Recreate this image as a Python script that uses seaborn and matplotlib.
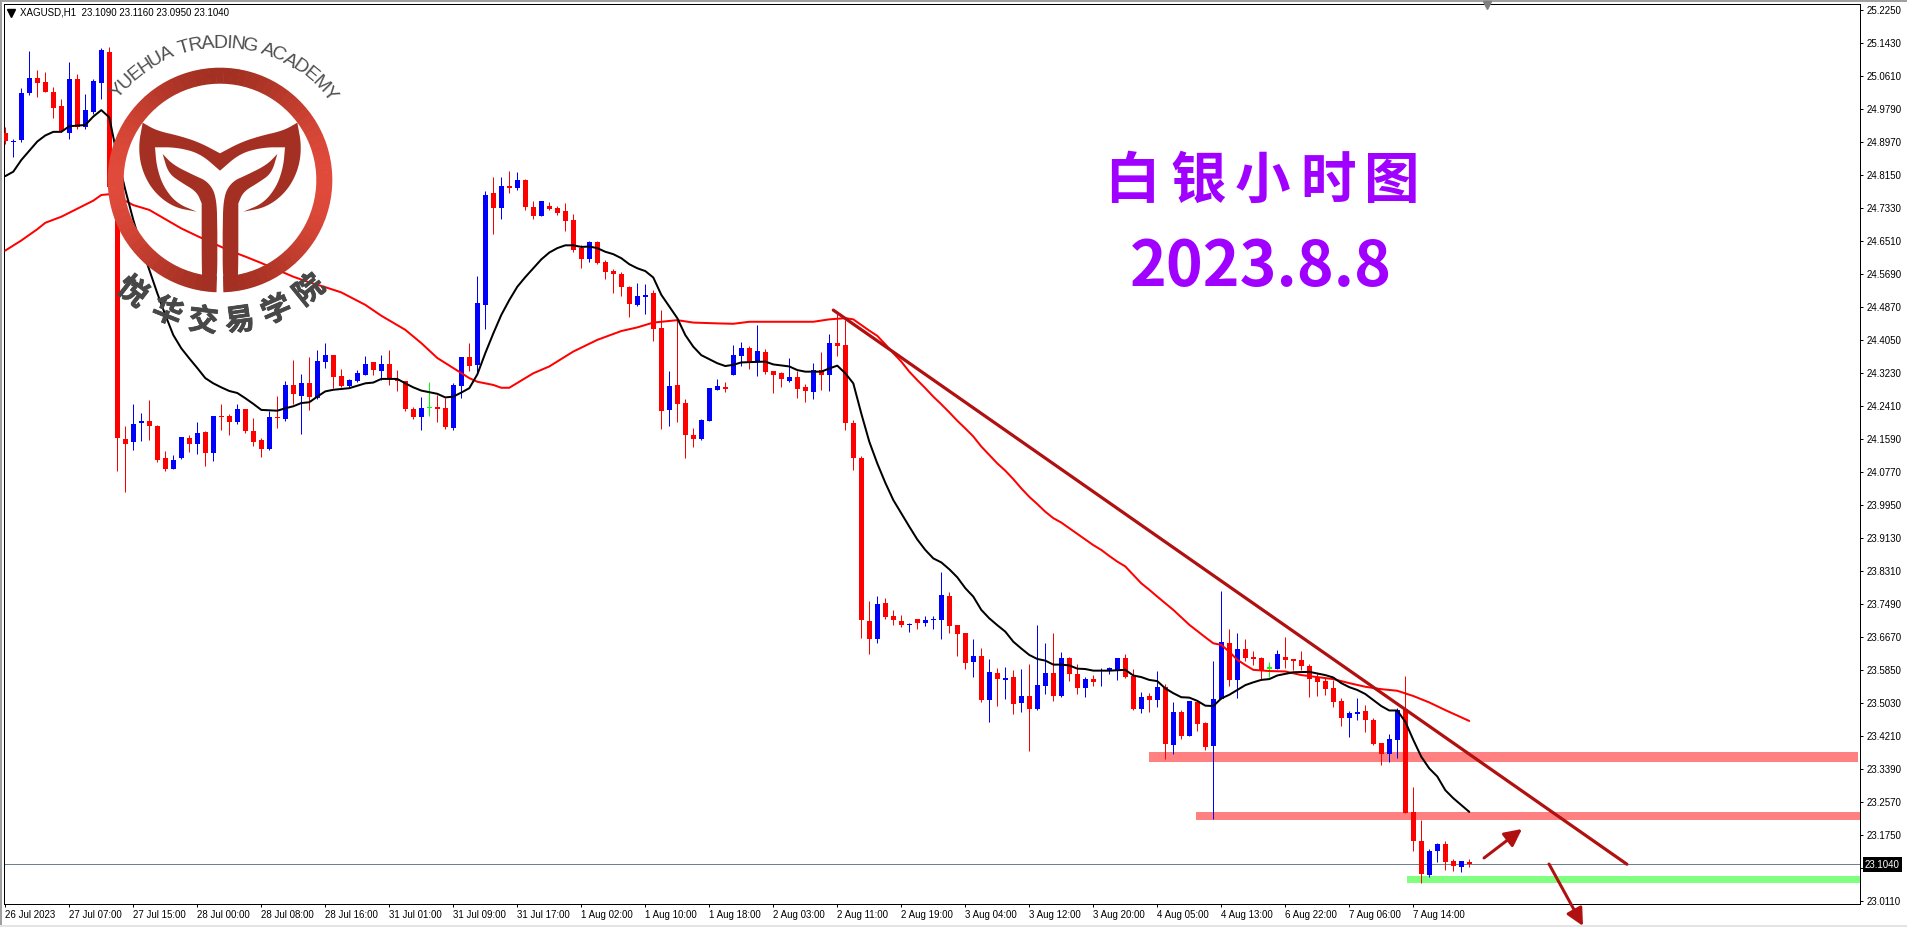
import numpy as np
import pandas as pd
import seaborn as sns
import matplotlib
matplotlib.use('Agg')
import matplotlib.pyplot as plt
import matplotlib.patheffects as pe
from matplotlib.patches import Wedge, Polygon, Rectangle, FancyArrowPatch

# XAGUSD H1 bars
opens = [24.919, 24.898, 24.903, 25.020, 25.056, 25.047, 25.021, 24.986, 24.921, 25.054,
         24.934, 24.972, 25.044, 25.121, 24.787, 24.160, 24.151, 24.200, 24.205, 24.192,
         24.113, 24.086, 24.113, 24.163, 24.148, 24.178, 24.125, 24.217, 24.217, 24.202,
         24.235, 24.180, 24.158, 24.135, 24.212, 24.210, 24.294, 24.267, 24.299, 24.262,
         24.351, 24.369, 24.317, 24.292, 24.304, 24.319, 24.351, 24.329, 24.346, 24.309,
         24.304, 24.235, 24.215, 24.236, 24.237, 24.237, 24.187, 24.292, 24.364, 24.344,
         24.493, 24.771, 24.734, 24.788, 24.783, 24.803, 24.736, 24.714, 24.739, 24.734,
         24.726, 24.704, 24.634, 24.607, 24.649, 24.600, 24.577, 24.570, 24.538, 24.493,
         24.513, 24.523, 24.436, 24.232, 24.294, 24.249, 24.170, 24.160, 24.205, 24.282,
         24.289, 24.319, 24.366, 24.386, 24.351, 24.376, 24.329, 24.324, 24.304, 24.314,
         24.289, 24.277, 24.331, 24.319, 24.398, 24.393, 24.200, 24.112, 23.707, 23.663,
         23.752, 23.720, 23.707, 23.698, 23.712, 23.702, 23.710, 23.710, 23.769, 23.698,
         23.678, 23.605, 23.620, 23.511, 23.578, 23.561, 23.568, 23.504, 23.521, 23.489,
         23.546, 23.578, 23.521, 23.615, 23.576, 23.541, 23.563, 23.583, 23.583, 23.586,
         23.615, 23.571, 23.489, 23.521, 23.511, 23.543, 23.399, 23.481, 23.422, 23.506,
         23.454, 23.397, 23.514, 23.653, 23.561, 23.638, 23.616, 23.616, 23.589, 23.588,
         23.618, 23.611, 23.611, 23.596, 23.568, 23.558, 23.541, 23.509, 23.467, 23.476,
         23.484, 23.462, 23.404, 23.377, 23.412, 23.489, 23.233, 23.161, 23.076, 23.136,
         23.153, 23.111, 23.096, 23.109]
highs = [24.936, 24.905, 25.031, 25.124, 25.077, 25.072, 25.035, 25.004, 25.097, 25.067,
         25.017, 25.054, 25.131, 25.133, 24.790, 24.192, 24.247, 24.224, 24.257, 24.194,
         24.130, 24.120, 24.165, 24.170, 24.202, 24.180, 24.217, 24.247, 24.222, 24.247,
         24.235, 24.212, 24.163, 24.230, 24.267, 24.304, 24.356, 24.322, 24.364, 24.381,
         24.399, 24.369, 24.334, 24.309, 24.332, 24.366, 24.351, 24.369, 24.381, 24.332,
         24.304, 24.240, 24.264, 24.302, 24.269, 24.262, 24.298, 24.364, 24.399, 24.565,
         24.776, 24.811, 24.811, 24.826, 24.823, 24.806, 24.751, 24.752, 24.749, 24.739,
         24.746, 24.719, 24.642, 24.652, 24.652, 24.605, 24.582, 24.575, 24.540, 24.547,
         24.545, 24.530, 24.480, 24.329, 24.458, 24.259, 24.187, 24.210, 24.287, 24.309,
         24.302, 24.393, 24.401, 24.391, 24.443, 24.384, 24.329, 24.326, 24.361, 24.329,
         24.297, 24.349, 24.376, 24.421, 24.470, 24.456, 24.207, 24.117, 23.757, 23.769,
         23.764, 23.735, 23.722, 23.702, 23.712, 23.720, 23.720, 23.829, 23.779, 23.698,
         23.678, 23.663, 23.640, 23.613, 23.591, 23.593, 23.586, 23.588, 23.601, 23.698,
         23.653, 23.678, 23.630, 23.618, 23.601, 23.568, 23.573, 23.591, 23.593, 23.615,
         23.625, 23.588, 23.531, 23.529, 23.583, 23.551, 23.506, 23.486, 23.509, 23.509,
         23.456, 23.608, 23.782, 23.688, 23.678, 23.663, 23.633, 23.618, 23.606, 23.635,
         23.668, 23.613, 23.633, 23.601, 23.577, 23.569, 23.561, 23.516, 23.484, 23.516,
         23.499, 23.467, 23.404, 23.427, 23.491, 23.571, 23.295, 23.213, 23.141, 23.156,
         23.161, 23.116, 23.111, 23.116]
lows = [24.893, 24.861, 24.898, 25.015, 25.010, 25.022, 24.958, 24.922, 24.905, 24.931,
        24.929, 24.967, 25.004, 24.787, 24.081, 24.029, 24.133, 24.154, 24.158, 24.103,
        24.081, 24.084, 24.110, 24.128, 24.123, 24.093, 24.105, 24.182, 24.170, 24.197,
        24.175, 24.143, 24.115, 24.133, 24.187, 24.205, 24.247, 24.173, 24.232, 24.260,
        24.337, 24.286, 24.290, 24.290, 24.302, 24.319, 24.319, 24.307, 24.294, 24.280,
        24.230, 24.210, 24.182, 24.217, 24.202, 24.185, 24.182, 24.262, 24.329, 24.321,
        24.433, 24.669, 24.706, 24.771, 24.778, 24.729, 24.706, 24.714, 24.729, 24.716,
        24.677, 24.624, 24.585, 24.600, 24.595, 24.557, 24.523, 24.515, 24.463, 24.490,
        24.470, 24.403, 24.185, 24.192, 24.202, 24.113, 24.140, 24.157, 24.205, 24.282,
        24.277, 24.319, 24.341, 24.334, 24.316, 24.321, 24.274, 24.289, 24.302, 24.262,
        24.252, 24.259, 24.282, 24.279, 24.366, 24.182, 24.083, 23.665, 23.625, 23.653,
        23.712, 23.698, 23.692, 23.680, 23.688, 23.695, 23.688, 23.663, 23.678, 23.620,
        23.588, 23.568, 23.506, 23.456, 23.496, 23.514, 23.476, 23.481, 23.384, 23.486,
        23.526, 23.509, 23.519, 23.558, 23.526, 23.519, 23.546, 23.546, 23.576, 23.561,
        23.566, 23.486, 23.479, 23.481, 23.494, 23.365, 23.377, 23.414, 23.422, 23.434,
        23.387, 23.215, 23.514, 23.546, 23.516, 23.608, 23.598, 23.561, 23.568, 23.588,
        23.591, 23.586, 23.586, 23.519, 23.521, 23.524, 23.494, 23.447, 23.419, 23.462,
        23.432, 23.399, 23.350, 23.357, 23.367, 23.230, 23.136, 23.056, 23.070, 23.109,
        23.089, 23.086, 23.084, 23.095]
closes = [24.901, 24.900, 25.019, 25.056, 25.045, 25.023, 24.983, 24.924, 25.054, 24.934,
          24.977, 25.049, 25.126, 24.787, 24.161, 24.148, 24.197, 24.205, 24.192, 24.108,
          24.086, 24.108, 24.165, 24.148, 24.175, 24.125, 24.217, 24.215, 24.202, 24.235,
          24.180, 24.153, 24.135, 24.215, 24.211, 24.294, 24.272, 24.299, 24.264, 24.354,
          24.369, 24.314, 24.292, 24.307, 24.324, 24.346, 24.332, 24.346, 24.309, 24.304,
          24.235, 24.215, 24.237, 24.236, 24.235, 24.190, 24.294, 24.364, 24.342, 24.498,
          24.766, 24.734, 24.788, 24.783, 24.803, 24.736, 24.714, 24.751, 24.731, 24.721,
          24.701, 24.629, 24.607, 24.649, 24.597, 24.575, 24.570, 24.538, 24.495, 24.515,
          24.518, 24.433, 24.229, 24.292, 24.247, 24.170, 24.160, 24.207, 24.287, 24.292,
          24.284, 24.369, 24.386, 24.351, 24.379, 24.326, 24.319, 24.309, 24.314, 24.284,
          24.279, 24.331, 24.319, 24.398, 24.391, 24.200, 24.113, 23.710, 23.663, 23.750,
          23.717, 23.710, 23.698, 23.701, 23.702, 23.710, 23.712, 23.772, 23.695, 23.675,
          23.603, 23.620, 23.511, 23.581, 23.563, 23.566, 23.501, 23.521, 23.489, 23.548,
          23.578, 23.521, 23.615, 23.576, 23.541, 23.563, 23.556, 23.586, 23.591, 23.615,
          23.568, 23.489, 23.519, 23.511, 23.543, 23.402, 23.481, 23.422, 23.509, 23.451,
          23.394, 23.514, 23.655, 23.561, 23.638, 23.616, 23.614, 23.586, 23.589, 23.625,
          23.611, 23.609, 23.596, 23.563, 23.556, 23.539, 23.506, 23.467, 23.479, 23.481,
          23.462, 23.402, 23.377, 23.414, 23.486, 23.230, 23.161, 23.079, 23.136, 23.153,
          23.109, 23.099, 23.111, 23.104]

# moving averages, read at these bar numbers
fast_x = [0, 1, 2, 3, 4, 5, 6, 7, 8, 10, 11, 12, 13, 14, 15, 16, 17, 18, 19, 20,
          21, 22, 23, 24, 25, 26, 27, 28, 29, 30, 31, 32, 33, 34, 35, 36, 37, 38, 39, 40,
          41, 43, 44, 45, 46, 47, 49, 50, 51, 52, 53, 54, 55, 56, 57, 58, 59, 60, 61, 62,
          63, 64, 65, 66, 67, 68, 69, 70, 71, 72, 73, 74, 75, 76, 77, 78, 79, 80, 81, 82,
          83, 84, 85, 86, 87, 88, 89, 90, 91, 92, 95, 96, 98, 99, 100, 102, 103, 104, 105, 106,
          107, 108, 109, 110, 111, 112, 113, 114, 115, 116, 117, 118, 119, 120, 121, 122, 123, 124, 125, 126,
          127, 128, 129, 130, 131, 132, 133, 134, 135, 136, 138, 140, 141, 142, 143, 144, 145, 146, 147, 148,
          149, 150, 151, 152, 153, 154, 155, 156, 157, 158, 159, 160, 161, 163, 164, 165, 166, 167, 168, 169,
          170, 171, 172, 173, 174, 175, 176, 177, 178, 179, 180, 181, 182, 183]
fast_ma = [24.813, 24.824, 24.853, 24.876, 24.899, 24.914, 24.923, 24.923, 24.937, 24.940, 24.961, 24.977, 24.959, 24.861, 24.779, 24.704, 24.638, 24.580, 24.522, 24.468,
           24.418, 24.385, 24.360, 24.336, 24.311, 24.298, 24.288, 24.279, 24.274, 24.261, 24.247, 24.232, 24.231, 24.230, 24.236, 24.241, 24.249, 24.251, 24.265, 24.278,
           24.282, 24.286, 24.292, 24.298, 24.300, 24.309, 24.309, 24.298, 24.288, 24.280, 24.276, 24.272, 24.263, 24.265, 24.275, 24.286, 24.320, 24.373, 24.422, 24.468,
           24.505, 24.538, 24.562, 24.584, 24.606, 24.623, 24.634, 24.641, 24.641, 24.637, 24.638, 24.634, 24.625, 24.619, 24.609, 24.594, 24.584, 24.577, 24.561, 24.518,
           24.489, 24.460, 24.418, 24.389, 24.368, 24.358, 24.348, 24.341, 24.344, 24.350, 24.352, 24.345, 24.340, 24.331, 24.327, 24.327, 24.335, 24.342, 24.323, 24.298,
           24.223, 24.153, 24.099, 24.051, 24.008, 23.975, 23.942, 23.910, 23.884, 23.863, 23.853, 23.836, 23.816, 23.789, 23.768, 23.735, 23.714, 23.697, 23.681, 23.656,
           23.639, 23.623, 23.613, 23.609, 23.599, 23.599, 23.597, 23.589, 23.588, 23.584, 23.584, 23.586, 23.572, 23.568, 23.561, 23.558, 23.540, 23.528, 23.518, 23.517,
           23.509, 23.497, 23.496, 23.515, 23.524, 23.536, 23.548, 23.555, 23.561, 23.563, 23.572, 23.576, 23.580, 23.581, 23.577, 23.573, 23.567, 23.553, 23.543, 23.536,
           23.526, 23.511, 23.496, 23.485, 23.485, 23.457, 23.412, 23.370, 23.341, 23.321, 23.287, 23.267, 23.250, 23.233]
slow_x = [0, 2, 4, 5, 7, 9, 11, 12, 13, 14, 16, 18, 20, 22, 24, 26, 28, 30, 32, 34,
          36, 38, 40, 42, 45, 47, 50, 52, 54, 56, 58, 59, 61, 62, 63, 66, 68, 71, 74, 77,
          79, 81, 84, 86, 89, 91, 93, 101, 103, 105, 106, 107, 108, 109, 110, 111, 112, 113, 114, 115,
          116, 117, 118, 119, 120, 121, 122, 123, 124, 125, 126, 127, 128, 129, 130, 131, 132, 133, 134, 135,
          136, 137, 138, 139, 140, 141, 142, 143, 144, 146, 148, 150, 151, 152, 153, 154, 155, 156, 158, 160,
          162, 164, 166, 168, 170, 172, 174, 176, 178, 180, 182, 183]
slow_ma = [24.628, 24.653, 24.681, 24.697, 24.712, 24.732, 24.752, 24.766, 24.768, 24.762, 24.741, 24.729, 24.706, 24.683, 24.664, 24.646, 24.628, 24.613, 24.597, 24.580,
           24.563, 24.549, 24.537, 24.524, 24.493, 24.466, 24.431, 24.398, 24.361, 24.336, 24.311, 24.302, 24.294, 24.287, 24.287, 24.323, 24.340, 24.377, 24.406, 24.428,
           24.437, 24.449, 24.455, 24.449, 24.447, 24.446, 24.451, 24.451, 24.457, 24.460, 24.457, 24.443, 24.429, 24.416, 24.395, 24.373, 24.352, 24.327, 24.306, 24.286,
           24.265, 24.246, 24.226, 24.205, 24.186, 24.166, 24.141, 24.120, 24.099, 24.081, 24.060, 24.037, 24.016, 23.998, 23.979, 23.963, 23.952, 23.938, 23.924, 23.910,
           23.896, 23.884, 23.869, 23.855, 23.843, 23.822, 23.801, 23.785, 23.768, 23.735, 23.698, 23.667, 23.652, 23.648, 23.631, 23.611, 23.598, 23.586, 23.583, 23.582,
           23.573, 23.568, 23.563, 23.553, 23.544, 23.538, 23.534, 23.521, 23.505, 23.486, 23.468, 23.459]

trend_x = [103.5, 202.7]
trend_y = [24.480, 23.103]
last_price = 23.104

# support / resistance zones: start bar, end bar, low price, high price
zone_start = [143, 148.8, 175.2]
zone_end = [231.6, 240, 240]
zone_low = [23.357, 23.2126, 23.0563]
zone_high = [23.382, 23.2325, 23.0737]
zone_color = ['#ff8080', '#ff8080', '#80ff80']

y_ticks = [25.2250, 25.1430, 25.0610, 24.9790, 24.8970, 24.8150, 24.7330, 24.6510, 24.5690, 24.4870,
           24.4050, 24.3230, 24.2410, 24.1590, 24.0770, 23.9950, 23.9130, 23.8310, 23.7490, 23.6670,
           23.5850, 23.5030, 23.4210, 23.3390, 23.2570, 23.1750, 23.0930, 23.0110]
x_labels = ['26 Jul 2023', '27 Jul 07:00', '27 Jul 15:00', '28 Jul 00:00', '28 Jul 08:00', '28 Jul 16:00',
            '31 Jul 01:00', '31 Jul 09:00', '31 Jul 17:00', '1 Aug 02:00', '1 Aug 10:00', '1 Aug 18:00',
            '2 Aug 03:00', '2 Aug 11:00', '2 Aug 19:00', '3 Aug 04:00', '3 Aug 12:00', '3 Aug 20:00',
            '4 Aug 05:00', '4 Aug 13:00', '6 Aug 22:00', '7 Aug 06:00', '7 Aug 14:00']

sns.set_style('ticks')
plt.rcParams['font.family'] = ['Liberation Sans', 'Noto Sans CJK SC', 'DejaVu Sans']
PX = 0.72  # one pixel in points at dpi 100
CJK = ['Noto Sans CJK SC', 'DejaVu Sans']

fig = plt.figure(figsize=(19.08, 9.27), dpi=100, facecolor='white')
ax = fig.add_axes([4 / 1908, 1 - 904 / 927, 1856 / 1908, 900 / 927])

df = pd.DataFrame({'open': opens, 'high': highs, 'low': lows, 'close': closes})
df['bar'] = np.arange(len(df))
df['color'] = np.where(df['close'] > df['open'], '#0000ff', '#ff0000')
df.loc[df['close'] == df['open'], 'color'] = '#00ff00'

for s, e, lo, hi, c in zip(zone_start, zone_end, zone_low, zone_high, zone_color):
    ax.add_patch(Rectangle((s, lo), e - s, hi - lo, color=c, lw=0, zorder=1))
ax.axhline(last_price, color='#708090', lw=PX, zorder=1.5)

ax.vlines(df['bar'], df['low'], df['high'], colors=df['color'], lw=PX, zorder=2)
body_low = df[['open', 'close']].min(axis=1)
body_h = (df['close'] - df['open']).abs().clip(lower=0.003)
ax.bar(df['bar'], body_h, bottom=body_low, width=0.62, color=df['color'], lw=0, zorder=3)

sns.lineplot(x=slow_x, y=slow_ma, color='#ff0000', lw=2 * PX, ax=ax, zorder=4)
sns.lineplot(x=fast_x, y=fast_ma, color='black', lw=2 * PX, ax=ax, zorder=4)
sns.lineplot(x=trend_x, y=trend_y, color='#b01010', lw=3.2 * PX, ax=ax, zorder=5)

ax.set_xlim(-0.1625, 231.84)
ax.set_ylim(23.0041, 25.2407)
ax.set_xticks(np.arange(len(x_labels)) * 8)
ax.set_xticklabels(x_labels, ha='left')
ax.set_yticks(y_ticks)
ax.set_yticklabels(['%.4f' % v for v in y_ticks])
ax.yaxis.tick_right()
ax.tick_params(axis='both', labelsize=7, length=2.5, width=PX, color='black', labelcolor='black')
ax.tick_params(axis='y', pad=2.5)
ax.tick_params(axis='x', pad=1.5)
ax.set_xlabel('')
ax.set_ylabel('')
for sp in ax.spines.values():
    sp.set_visible(True)
    sp.set_linewidth(PX)
    sp.set_color('black')

# overlay in pixels for logo, title and window furniture
ov = fig.add_axes([0, 0, 1, 1], facecolor='none')
ov.set_xlim(0, 1908)
ov.set_ylim(927, 0)
ov.axis('off')

ov.add_patch(Rectangle((0, 0), 1908, 2, color='#a0a0a0', lw=0))
ov.add_patch(Rectangle((0, 0), 2, 927, color='#a0a0a0', lw=0))
ov.add_patch(Rectangle((0, 925), 1908, 2, color='#e4e4e4', lw=0))

ov.plot([11.5], [12.5], marker='v', ms=5.5, color='black', lw=0)
ov.text(20, 12.5, 'XAGUSD,H1  23.1090 23.1160 23.0950 23.1040', fontsize=7, va='center', ha='left', color='black')
ov.plot([1487], [5], marker='v', ms=6, color='#808080', lw=0)
ov.text(1882.5, 864.5, '23.1040', fontsize=7, color='white', va='center', ha='center',
        bbox=dict(boxstyle='square,pad=0.22', fc='black', ec='black', lw=0))

# logo
LOGO_DARK = np.array([0xa3, 0x30, 0x22]) / 255
LOGO_LIGHT = np.array([0xe0, 0x4a, 0x3a]) / 255
cx, cy = 220, 180
for a in np.arange(91.8, 448.2, 4):
    t = abs(np.cos(np.radians(a + 2))) ** 2
    c = LOGO_DARK + (LOGO_LIGHT - LOGO_DARK) * t
    ov.add_patch(Wedge((cx, cy), 112.3, a, min(a + 4.3, 448.2), width=16, color=c, lw=0))


def chaikin(pts, rounds=3):
    pts = np.array(pts, dtype=float)
    for _ in range(rounds):
        q = 0.75 * pts[:-1] + 0.25 * pts[1:]
        r = 0.25 * pts[:-1] + 0.75 * pts[1:]
        mid = np.empty((len(q) * 2, 2))
        mid[0::2] = q
        mid[1::2] = r
        pts = np.vstack([pts[0], mid, pts[-1]])
    return pts


def mirror(pts):
    out = np.array(pts, dtype=float)[::-1]
    out[:, 0] = 1320 - out[:, 0]
    return out


def logo_shape(curves):
    pts = np.vstack([chaikin(c) for c in curves])
    ov.add_patch(Polygon(pts / 3, closed=True, color='#a33022', lw=0))


top_edge = [(428, 368), (470, 392), (540, 408), (600, 428), (660, 460)]
outer_edge = [(730, 635), (800, 622), (860, 575), (895, 510), (905, 440), (892, 368)]
inner_edge = [(855, 442), (850, 500), (830, 560), (790, 610), (730, 635)]
notch_edge = [(660, 512), (720, 460), (790, 442), (855, 442)]
logo_shape([top_edge, mirror(top_edge), outer_edge[::-1], inner_edge[::-1], notch_edge[::-1],
            mirror(notch_edge)[::-1], mirror(inner_edge)[::-1], mirror(outer_edge)[::-1]])

leaf_top = [(488, 462), (520, 495), (580, 525), (625, 545), (650, 590), (652, 700)]
leaf_stem = [(652, 700), (652, 840), (640, 862), (610, 872)]
leaf_back = [(605, 610), (590, 575), (545, 548), (505, 520), (488, 462)]
leaf = [leaf_top, leaf_stem, [(610, 872), (605, 822), (605, 610)], leaf_back]
logo_shape(leaf)
logo_shape([mirror(part) for part in leaf[::-1]])

academy = 'YUEHUA TRADING ACADEMY'
widths = [0.45 if ch in ' I' else (1.25 if ch == 'M' else 1.0) for ch in academy]
edges = np.cumsum([0] + widths)
mids = (edges[:-1] + edges[1:]) / 2 / edges[-1]
for ch, m in zip(academy, mids):
    ang = 142 - 106 * m
    ov.text(222 + 137 * np.cos(np.radians(ang)), 180 - 137 * np.sin(np.radians(ang)), ch,
            fontsize=14, color='#4f4f4f', ha='center', va='center', rotation=ang - 90)

school = '悦华交易学院'
school_ang = [38, 21.7, 6.8, -8, -23.5, -39]
for ch, a in zip(school, school_ang):
    ov.text(220 - 142 * np.sin(np.radians(a)), 180 + 142 * np.cos(np.radians(a)), ch,
            fontsize=21.5, fontweight='bold', color='#484848', ha='center', va='center', rotation=-a,
            family=CJK, path_effects=[pe.withStroke(linewidth=0.6, foreground='#484848')])

# title
PURPLE = '#a000ff'
for ch, x in zip('白银小时图', [1132, 1198, 1263, 1328, 1392]):
    ov.text(x, 182, ch, fontsize=40, fontweight='bold', color=PURPLE, ha='center', va='center', family=CJK)
ov.text(1261, 286, '2023.8.8', fontsize=45, fontweight='bold', color=PURPLE, ha='center', va='baseline', family=CJK)

# hand drawn arrows
for start, end in [((1484, 858), (1522, 829)), ((1549, 864), (1583, 926))]:
    ov.add_patch(FancyArrowPatch(start, end, arrowstyle='-|>', mutation_scale=26, color='#b01010',
                                 lw=3 * PX, shrinkA=0, shrinkB=0, clip_on=False))

fig.savefig('out.png', dpi=100)
